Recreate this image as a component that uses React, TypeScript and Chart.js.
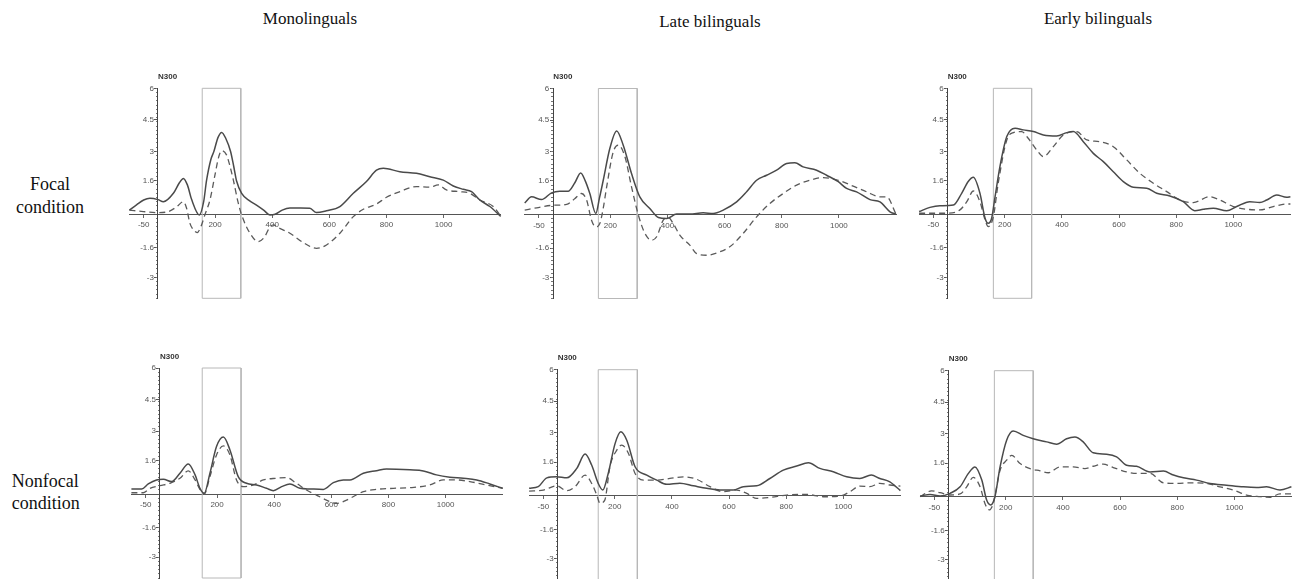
import React, { useEffect, useRef } from 'react';
import { Chart, registerables } from 'chart.js';

Chart.register(...registerables);

type Pt = [number, number];

// ---------- axis / label data ----------
const xTickValues = [-50, 200, 400, 600, 800, 1000];
const xTickLabels = ['-50', '200', '400', '600', '800', '1000'];
const yTickValues = [6, 4.5, 3, 1.6, -1.6, -3];
const yTickLabels = ['6', '4.5', '3', '1.6', '-1.6', '-3'];
const X_MIN = -100;
const X_MAX = 1200;
const Y_MIN = -4;
const Y_MAX = 6;
const Y_MINOR_STEP = 0.2;

const groupTitles = ['Monolinguals', 'Late bilinguals', 'Early bilinguals'];
const focalLines = ['Focal', 'condition'];
const nonfocalLines = ['Nonfocal', 'condition'];
const componentLabel = 'N300';

// ---------- series (time ms, amplitude µV) ----------
const monoFocalSolid: Pt[] = [
  [-100, 0.2], [-75, 0.45], [-50, 0.68], [-28, 0.76], [0, 0.7], [19, 0.6], [54, 1.0], [75, 1.5], [89, 1.71],
  [103, 1.4], [118, 0.7], [145, -0.03], [160, 0.6], [170, 1.6], [185, 2.6], [196, 3.0], [210, 3.65], [223, 3.9],
  [238, 3.6], [254, 3.0], [265, 2.3], [275, 1.6], [293, 1.0], [320, 0.65], [345, 0.44], [370, 0.2], [392, -0.03],
  [410, 0.0], [435, 0.2], [462, 0.3], [500, 0.3], [532, 0.29], [555, 0.08], [590, 0.17], [637, 0.37], [684, 1.0],
  [730, 1.56], [765, 2.1], [789, 2.19], [847, 2.03], [905, 1.95], [952, 1.79], [999, 1.63], [1034, 1.35],
  [1069, 1.19], [1098, 1.08], [1127, 0.68], [1162, 0.37], [1200, -0.1],
];
const monoFocalDashed: Pt[] = [
  [-100, 0.2], [-51, 0.13], [0, 0.08], [36, 0.13], [65, 0.35], [89, 0.6], [100, 0.3], [112, -0.43], [125, -0.75],
  [137, -0.87], [150, -0.6], [165, 0.0], [182, 0.68], [200, 1.9], [212, 2.7], [223, 3.03], [240, 2.83], [252, 2.3],
  [264, 1.63], [280, 0.6], [293, -0.03], [322, -0.9], [351, -1.3], [374, -1.06], [392, -0.6], [405, -0.5],
  [415, -0.59], [462, -0.9], [509, -1.35], [555, -1.62], [590, -1.46], [637, -0.9], [684, -0.11], [719, 0.24],
  [765, 0.49], [800, 0.81], [847, 1.08], [905, 1.32], [952, 1.29], [981, 1.4], [1010, 1.16], [1057, 1.08],
  [1092, 1.0], [1127, 0.68], [1174, 0.37], [1200, -0.08],
];
const lateFocalSolid: Pt[] = [
  [-100, 0.55], [-76, 0.84], [-41, 0.71], [-6, 1.03], [23, 1.11], [52, 1.11], [75, 1.5], [96, 1.98], [112, 1.6],
  [128, 1.0], [149, 0.05], [162, 0.8], [175, 1.63], [198, 3.14], [222, 3.98], [245, 3.3], [274, 1.95], [303, 0.84],
  [338, 0.29], [368, -0.14], [397, -0.19], [432, 0.02], [478, 0.02], [525, 0.08], [560, 0.05], [595, 0.21],
  [642, 0.6], [677, 1.08], [712, 1.63], [747, 1.87], [782, 2.11], [817, 2.43], [846, 2.46], [875, 2.27],
  [922, 2.11], [957, 1.87], [998, 1.56], [1027, 1.24], [1062, 1.08], [1109, 0.71], [1144, 0.6], [1179, 0.13],
  [1200, 0.02],
];
const lateFocalDashed: Pt[] = [
  [-100, 0.21], [-58, 0.32], [0, 0.44], [47, 0.48], [75, 0.75], [99, 1.0], [117, 0.68], [134, -0.27], [149, -0.59],
  [163, -0.43], [175, 0.3], [187, 1.32], [210, 2.98], [228, 3.3], [251, 2.75], [274, 1.32], [298, -0.03],
  [321, -0.9], [344, -1.22], [362, -1.06], [385, -0.27], [403, -0.14], [420, -0.43], [443, -0.98], [478, -1.46],
  [502, -1.86], [537, -1.94], [572, -1.83], [618, -1.54], [665, -0.9], [712, -0.11], [758, 0.52], [805, 1.0],
  [852, 1.4], [898, 1.63], [945, 1.76], [998, 1.63], [1050, 1.35], [1097, 1.08], [1144, 0.84], [1167, 0.84],
  [1200, 0.02],
];
const earlyFocalSolid: Pt[] = [
  [-100, 0.13], [-62, 0.33], [-27, 0.41], [20, 0.44], [49, 1.0], [72, 1.56], [90, 1.76], [113, 1.0], [131, -0.19],
  [142, -0.43], [154, -0.19], [166, 0.84], [183, 2.27], [207, 3.7], [236, 4.1], [265, 4.02], [300, 3.94],
  [335, 3.78], [382, 3.73], [417, 3.89], [440, 3.94], [475, 3.46], [510, 2.9], [545, 2.51], [580, 2.03],
  [615, 1.56], [650, 1.29], [697, 1.24], [732, 1.0], [778, 0.87], [825, 0.6], [865, 0.17], [895, 0.24],
  [930, 0.29], [977, 0.17], [1012, 0.37], [1058, 0.6], [1093, 0.56], [1117, 0.68], [1152, 0.92], [1187, 0.81],
  [1200, 0.84],
];
const earlyFocalDashed: Pt[] = [
  [-100, 0.05], [-50, 0.05], [-3, 0.05], [43, 0.21], [67, 0.6], [90, 1.11], [113, 0.6], [131, -0.27], [142, -0.59],
  [160, -0.11], [177, 1.48], [207, 3.54], [230, 3.89], [259, 3.94], [282, 3.62], [312, 3.06], [335, 2.75],
  [370, 3.22], [405, 3.78], [452, 3.94], [487, 3.54], [533, 3.46], [580, 3.22], [627, 2.59], [673, 1.95],
  [720, 1.48], [767, 1.08], [813, 0.68], [860, 0.56], [918, 0.84], [953, 0.68], [1000, 0.37], [1047, 0.24],
  [1093, 0.21], [1140, 0.37], [1187, 0.49], [1200, 0.49],
];
const monoNonfocalSolid: Pt[] = [
  [-100, 0.24], [-64, 0.24], [-41, 0.48], [-12, 0.67], [12, 0.7], [41, 0.59], [70, 0.99], [99, 1.43], [123, 0.91],
  [140, 0.27], [155, 0.03], [175, 0.99], [198, 2.26], [222, 2.71], [245, 2.1], [274, 0.83], [303, 0.51],
  [338, 0.43], [373, 0.27], [397, 0.16], [426, 0.35], [455, 0.48], [490, 0.27], [525, 0.24], [572, 0.22],
  [607, 0.54], [642, 0.67], [665, 0.67], [712, 0.99], [758, 1.11], [793, 1.19], [828, 1.18], [875, 1.15],
  [922, 1.1], [968, 0.91], [1015, 0.8], [1062, 0.75], [1109, 0.67], [1155, 0.48], [1200, 0.27],
];
const monoNonfocalDashed: Pt[] = [
  [-100, 0.06], [-58, 0.06], [-35, 0.27], [0, 0.4], [35, 0.51], [70, 0.75], [99, 1.1], [123, 0.67], [140, 0.22],
  [155, 0.0], [175, 0.83], [198, 1.86], [222, 2.29], [245, 1.86], [268, 0.67], [292, 0.35], [327, 0.43],
  [362, 0.67], [408, 0.75], [443, 0.78], [478, 0.51], [513, 0.19], [548, -0.05], [583, -0.29], [618, -0.45],
  [653, -0.29], [712, 0.11], [758, 0.22], [817, 0.27], [875, 0.3], [945, 0.43], [992, 0.67], [1039, 0.67],
  [1085, 0.59], [1143, 0.43], [1200, 0.27],
];
const lateNonfocalSolid: Pt[] = [
  [-100, 0.35], [-68, 0.43], [-38, 0.85], [-4, 0.9], [32, 0.85], [67, 1.3], [96, 1.98], [119, 1.46], [142, 0.59],
  [158, 0.27], [177, 1.06], [201, 2.48], [221, 3.04], [242, 2.64], [271, 1.38], [312, 0.98], [347, 0.74],
  [382, 0.54], [428, 0.59], [475, 0.47], [522, 0.35], [568, 0.27], [615, 0.27], [650, 0.43], [697, 0.47],
  [743, 0.82], [790, 1.22], [837, 1.41], [878, 1.57], [918, 1.3], [965, 1.14], [1012, 0.9], [1058, 0.82],
  [1098, 0.98], [1128, 0.82], [1163, 0.66], [1200, 0.24],
];
const lateNonfocalDashed: Pt[] = [
  [-100, 0.22], [-50, 0.27], [-4, 0.47], [32, 0.24], [61, 0.43], [96, 0.98], [119, 0.59], [137, 0.03],
  [148, -0.36], [165, -0.21], [183, 1.38], [207, 2.17], [224, 2.41], [248, 2.01], [271, 1.06], [300, 0.74],
  [347, 0.74], [393, 0.82], [440, 0.9], [487, 0.78], [533, 0.43], [580, 0.19], [627, 0.27], [662, 0.11],
  [697, -0.13], [743, -0.08], [802, 0.03], [872, 0.06], [930, -0.05], [988, -0.02], [1023, 0.19], [1058, 0.46],
  [1093, 0.43], [1128, 0.59], [1163, 0.51], [1200, 0.46],
];
const earlyNonfocalSolid: Pt[] = [
  [-100, 0.03], [-65, 0.11], [-30, 0.03], [5, 0.16], [40, 0.47], [69, 1.11], [92, 1.42], [116, 0.79],
  [133, -0.16], [147, -0.39], [162, 0.0], [180, 1.42], [203, 2.69], [226, 3.13], [261, 2.92], [296, 2.76],
  [343, 2.61], [378, 2.5], [413, 2.76], [442, 2.84], [471, 2.61], [506, 2.09], [553, 2.02], [588, 1.9],
  [623, 1.5], [658, 1.45], [705, 1.18], [752, 1.22], [787, 1.03], [822, 0.9], [868, 0.79], [915, 0.63],
  [973, 0.55], [1032, 0.47], [1078, 0.44], [1113, 0.47], [1160, 0.32], [1200, 0.47],
];
const earlyNonfocalDashed: Pt[] = [
  [-100, 0.0], [-60, 0.28], [-30, 0.19], [5, 0.08], [40, 0.13], [63, 0.47], [86, 0.92], [110, 0.47],
  [127, -0.32], [142, -0.63], [156, -0.32], [180, 1.26], [203, 1.74], [221, 1.97], [250, 1.58], [285, 1.34],
  [320, 1.23], [349, 1.14], [390, 1.42], [436, 1.42], [477, 1.34], [506, 1.45], [541, 1.55], [576, 1.39],
  [623, 1.18], [658, 1.11], [705, 1.11], [752, 0.66], [798, 0.63], [845, 0.66], [903, 0.63], [950, 0.47],
  [997, 0.32], [1043, 0.08], [1090, 0.0], [1125, -0.03], [1160, 0.13], [1200, 0.13],
];

// analysis window (ms) per panel
const windowStart = [155, 158, 160, 148, 142, 160];
const windowEnd = [290, 294, 294, 284, 279, 296];

const panelSolid = [monoFocalSolid, lateFocalSolid, earlyFocalSolid, monoNonfocalSolid, lateNonfocalSolid, earlyNonfocalSolid];
const panelDashed = [monoFocalDashed, lateFocalDashed, earlyFocalDashed, monoNonfocalDashed, lateNonfocalDashed, earlyNonfocalDashed];

// ---------- layout (pixels) ----------
const PLOT_W = 371.3;
const PLOT_H = 210;
const frameLeft = [129.4, 524.7, 919.1, 131.4, 529.1, 920.1];
const frameTop = [88.3, 88.5, 88.3, 368, 369.7, 370.7];
const CANVAS_W = 440;
const CANVAS_H = 262;
const OFF_L = 36;
const OFF_T = 26;

const SANS = '"Liberation Sans", Arial, sans-serif';
const SERIF = '"Liberation Serif", "Times New Roman", serif';
const LABEL_GAP = '\u2002'; // spacing between y tick label and axis line

const componentLabelPlugin = {
  id: 'componentLabel',
  afterDraw(chart: any) {
    const { ctx, chartArea, scales } = chart;
    ctx.save();
    ctx.font = `bold 8px ${SANS}`;
    ctx.fillStyle = '#333';
    ctx.textAlign = 'left';
    ctx.textBaseline = 'middle';
    ctx.fillText(componentLabel, scales.x.getPixelForValue(0), chartArea.top - 11.5);
    ctx.restore();
  },
};

function Panel({ idx }: { idx: number }) {
  const ref = useRef<HTMLCanvasElement>(null);
  const cx = Math.floor(frameLeft[idx]) - OFF_L;
  const cy = Math.floor(frameTop[idx]) - OFF_T;
  useEffect(() => {
    const padL = frameLeft[idx] - cx;
    const padT = frameTop[idx] - cy;
    const toXY = (arr: Pt[]) => arr.map(([x, y]) => ({ x, y }));
    const ws = windowStart[idx];
    const we = windowEnd[idx];
    const minorTicks: { value: number }[] = [];
    for (let v = Y_MIN; v <= Y_MAX + 1e-9; v += Y_MINOR_STEP) minorTicks.push({ value: Math.round(v * 100) / 100 });
    const chart = new Chart(ref.current as HTMLCanvasElement, {
      type: 'line',
      data: {
        datasets: [
          {
            data: toXY(panelSolid[idx]),
            borderColor: '#4a4a4a',
            borderWidth: 1.5,
            pointRadius: 0,
            cubicInterpolationMode: 'monotone',
            clip: false,
          } as any,
          {
            data: toXY(panelDashed[idx]),
            borderColor: '#5a5a5a',
            borderWidth: 1.3,
            borderDash: [6, 4],
            pointRadius: 0,
            cubicInterpolationMode: 'monotone',
            clip: false,
          } as any,
          {
            data: [
              { x: ws, y: Y_MIN }, { x: ws, y: Y_MAX }, { x: we, y: Y_MAX }, { x: we, y: Y_MIN }, { x: ws, y: Y_MIN },
            ],
            borderColor: '#b8b8b8',
            borderWidth: 1,
            pointRadius: 0,
            tension: 0,
            clip: false,
          } as any,
        ],
      },
      options: {
        animation: false,
        responsive: false,
        events: [],
        layout: {
          padding: {
            left: padL,
            top: padT,
            right: CANVAS_W - padL - PLOT_W,
            bottom: CANVAS_H - padT - PLOT_H,
          },
        },
        plugins: { legend: { display: false }, tooltip: { enabled: false }, title: { display: false } },
        scales: {
          x: {
            type: 'linear',
            min: X_MIN,
            max: X_MAX,
            position: { y: 0 } as any,
            afterBuildTicks: (s: any) => {
              s.ticks = xTickValues.map((v) => ({ value: v }));
            },
            ticks: {
              autoSkip: false,
              maxRotation: 0,
              padding: 3,
              color: '#555',
              font: { family: SANS, size: 8 },
              callback: (_v: any, i: number) => xTickLabels[i],
            },
            grid: { display: true, drawOnChartArea: false, drawTicks: true, tickLength: 3, color: '#666' },
            border: { display: true, color: '#555', width: 1 },
          },
          y: {
            type: 'linear',
            min: Y_MIN,
            max: Y_MAX,
            position: { x: 0 } as any,
            afterBuildTicks: (s: any) => {
              s.ticks = yTickValues.map((v) => ({ value: v }));
            },
            ticks: {
              autoSkip: false,
              padding: 2,
              color: '#555',
              font: { family: SANS, size: 8 },
              callback: (_v: any, i: number) => yTickLabels[i] + LABEL_GAP,
            },
            grid: { display: true, drawOnChartArea: false, drawTicks: true, tickLength: 3, color: '#555' },
            border: { display: true, color: '#444', width: 1 },
          },
          yMinor: {
            type: 'linear',
            min: Y_MIN,
            max: Y_MAX,
            position: { x: 0 } as any,
            afterBuildTicks: (s: any) => {
              s.ticks = minorTicks.slice();
            },
            ticks: { display: false },
            grid: { display: true, drawOnChartArea: false, drawTicks: true, tickLength: 2, color: '#777' },
            border: { display: false },
          },
        },
      } as any,
      plugins: [componentLabelPlugin],
    });
    return () => chart.destroy();
  }, []);
  return (
    <canvas
      ref={ref}
      width={CANVAS_W}
      height={CANVAS_H}
      style={{ position: 'absolute', left: cx, top: cy, width: CANVAS_W, height: CANVAS_H }}
    />
  );
}

const titleCenters = [310, 710, 1098];
const titleBaselines = [25, 28, 25];

export default function App() {
  const titleStyle = (i: number): React.CSSProperties => ({
    position: 'absolute',
    left: titleCenters[i] - 150,
    top: titleBaselines[i] - 15.8,
    width: 300,
    textAlign: 'center',
    fontFamily: SERIF,
    fontSize: 17,
    lineHeight: '20px',
    color: '#111',
    whiteSpace: 'nowrap',
  });
  const rowStyle = (top: number, left: number, width: number, align: 'center' | 'left'): React.CSSProperties => ({
    position: 'absolute',
    left,
    top,
    width,
    textAlign: align,
    fontFamily: SERIF,
    fontSize: 18,
    lineHeight: '22.6px',
    color: '#111',
    whiteSpace: 'nowrap',
  });
  return (
    <div
      style={{
        position: 'absolute',
        left: 0,
        top: 0,
        width: 1294,
        height: 579,
        overflow: 'hidden',
        background: '#fff',
      }}
    >
      {groupTitles.map((t, i) => (
        <div key={t} style={titleStyle(i)}>{t}</div>
      ))}
      <div style={rowStyle(173.3, 4, 92, 'center')}>
        {focalLines.map((l) => (
          <div key={l}>{l}</div>
        ))}
      </div>
      <div style={rowStyle(469.9, 11.7, 100, 'left')}>
        {nonfocalLines.map((l) => (
          <div key={l}>{l}</div>
        ))}
      </div>
      {[0, 1, 2, 3, 4, 5].map((i) => (
        <Panel key={i} idx={i} />
      ))}
    </div>
  );
}
